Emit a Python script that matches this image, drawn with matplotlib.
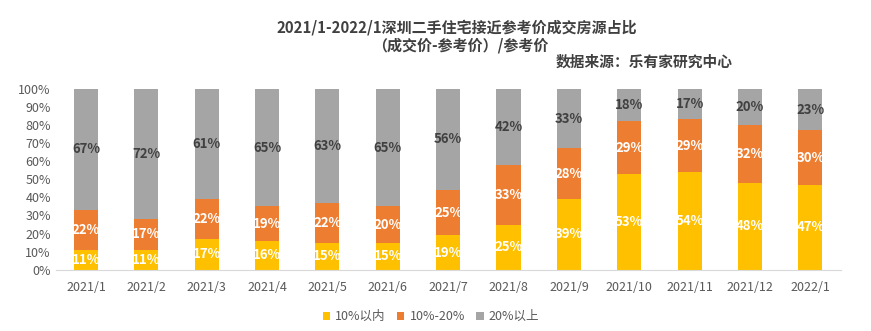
import matplotlib.pyplot as plt
import numpy as np

plt.rcParams['font.family'] = ['Noto Sans CJK SC', 'DejaVu Sans']

months = ['2021/1', '2021/2', '2021/3', '2021/4', '2021/5', '2021/6', '2021/7',
          '2021/8', '2021/9', '2021/10', '2021/11', '2021/12', '2022/1']
within10 = [11, 11, 17, 16, 15, 15, 19, 25, 39, 53, 54, 48, 47]
between10_20 = [22, 17, 22, 19, 22, 20, 25, 33, 28, 29, 29, 32, 30]
above20 = [67, 72, 61, 65, 63, 65, 56, 42, 33, 18, 17, 20, 23]
series_names = ['10%以内', '10%-20%', '20%以上']

colors = ['#FFC000', '#ED7D31', '#A5A5A5']
text_colors = ['white', 'white', '#404040']

fig = plt.figure(figsize=(8.71, 3.31), dpi=100)
ax = fig.add_axes([0.064, 0.185, 0.901, 0.547])

x = np.arange(len(months))
bottom = np.zeros(len(months))
for vals, name, c, tc in zip([within10, between10_20, above20], series_names, colors, text_colors):
    vals = np.array(vals, dtype=float)
    ax.bar(x, vals, 0.4, bottom=bottom, color=c, label=name, zorder=2)
    for xi, v, b in zip(x, vals, bottom):
        ax.text(xi, b + v / 2, f'{int(v)}%', ha='center', va='center',
                color=tc, fontsize=9.5, fontweight='bold', zorder=3)
    bottom += vals

ax.set_xlim(-0.5, len(months) - 0.5)
ax.set_ylim(0, 100)
ax.set_yticks(range(0, 101, 10))
ax.set_yticklabels([f'{v}%' for v in range(0, 101, 10)])
ax.set_xticks(x)
ax.set_xticklabels(months)
ax.tick_params(axis='both', length=0, colors='#595959', labelsize=9)
ax.tick_params(axis='x', pad=8)
for s in ['top', 'right', 'left']:
    ax.spines[s].set_visible(False)
ax.spines['bottom'].set_color('#D9D9D9')

fig.text(0.524, 0.918, '2021/1-2022/1深圳二手住宅接近参考价成交房源占比',
         ha='center', va='center', fontsize=10.8, fontweight='bold', color='#404040')
fig.text(0.528, 0.864, '（成交价-参考价）/参考价',
         ha='center', va='center', fontsize=10.8, fontweight='bold', color='#404040')
fig.text(0.841, 0.813, '数据来源：乐有家研究中心',
         ha='right', va='center', fontsize=10.6, fontweight='bold', color='#404040')

ax.legend(loc='center', bbox_to_anchor=(0.478, -0.26), ncol=3, frameon=False,
          fontsize=9, handlelength=0.6, handleheight=0.6, handletextpad=0.4,
          columnspacing=0.9, labelcolor='#595959')

fig.savefig('out.png', dpi=100)
